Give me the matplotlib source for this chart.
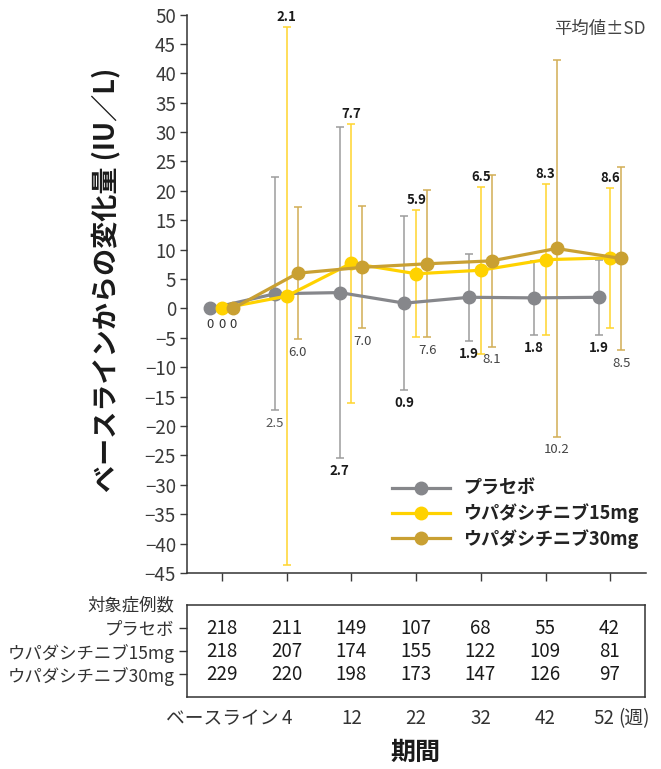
import matplotlib
matplotlib.use('Agg')
import matplotlib.pyplot as plt
import numpy as np

plt.rcParams['font.family'] = ['Noto Sans CJK JP', 'DejaVu Sans']

# 期間 (週)
weeks = ['ベースライン', '4', '12', '22', '32', '42', '52']
series = ['プラセボ', 'ウパダシチニブ15mg', 'ウパダシチニブ30mg']

# 平均値
mean_pbo = [0, 2.5, 2.7, 0.9, 1.9, 1.8, 1.9]
mean_15 = [0, 2.1, 7.7, 5.9, 6.5, 8.3, 8.6]
mean_30 = [0, 6.0, 7.0, 7.6, 8.1, 10.2, 8.5]
# SD
sd_pbo = [0, 19.8, 28.1, 14.8, 7.4, 6.3, 6.4]
sd_15 = [0, 45.7, 23.7, 10.8, 14.2, 12.9, 11.9]
sd_30 = [0, 11.2, 10.4, 12.5, 14.6, 32.0, 15.6]

# 対象症例数
n_pbo = [218, 211, 149, 107, 68, 55, 42]
n_15 = [218, 207, 174, 155, 122, 109, 81]
n_30 = [229, 220, 198, 173, 147, 126, 97]

colors = ['#86878b', '#ffd200', '#c9a032']
err_colors = ['#9c9c9c', '#ffd52e', '#d2ae55']
offsets = [-0.18, 0.0, 0.17]

fig = plt.figure(figsize=(6.61, 7.69), dpi=100)
ax = fig.add_axes([0.283, 0.2549, 0.694, 0.7262])

x = np.arange(len(weeks))
means = [mean_pbo, mean_15, mean_30]
sds = [sd_pbo, sd_15, sd_30]
for k in range(3):
    xx = x + offsets[k]
    m = np.array(means[k])
    s = np.array(sds[k])
    ax.errorbar(xx[1:], m[1:], yerr=s[1:], fmt='none', ecolor=err_colors[k],
                elinewidth=1.1, capsize=3.2, capthick=1.1, zorder=2)
    ax.plot(xx, m, '-o', color=colors[k], lw=2.3, ms=9, label=series[k], zorder=3 + k)

# 数値ラベル
for i in range(1, len(weeks)):
    w = 'normal' if i == 1 else 'bold'
    c = '#555555' if i == 1 else '#1a1a1a'
    ax.annotate(f'{mean_pbo[i]:.1f}', (x[i] + offsets[0], mean_pbo[i] - sd_pbo[i]),
                xytext=(0, -13), textcoords='offset pixels', ha='center', va='center',
                fontsize=9.5, fontweight=w, color=c)
    ax.annotate(f'{mean_15[i]:.1f}', (x[i] + offsets[1], mean_15[i] + sd_15[i]),
                xytext=(0, 10), textcoords='offset pixels', ha='center', va='center',
                fontsize=9.5, fontweight='bold', color='#1a1a1a')
    ax.annotate(f'{mean_30[i]:.1f}', (x[i] + offsets[2], mean_30[i] - sd_30[i]),
                xytext=(0, -13), textcoords='offset pixels', ha='center', va='center',
                fontsize=9.5, color='#444444')
for k in range(3):
    ax.annotate('0', (x[0] + offsets[k], 0), xytext=(0, -16), textcoords='offset pixels',
                ha='center', va='center', fontsize=9.5, color='#333333')

ax.set_xlim(-0.54, 6.55)
ax.set_ylim(-45, 50)
ax.set_yticks(np.arange(-45, 51, 5))
ax.set_xticks(x)
ax.set_xticklabels([])
ax.tick_params(axis='y', length=5, width=1, direction='out', labelsize=13.5,
               colors='#3a3a3a', pad=3)
ax.tick_params(axis='x', length=5.5, width=1, direction='out', colors='#3a3a3a')
for sp in ['top', 'right']:
    ax.spines[sp].set_visible(False)
for sp in ['left', 'bottom']:
    ax.spines[sp].set_color('#333333')
    ax.spines[sp].set_linewidth(1.1)

ax.set_ylabel('ベースラインからの変化量 (IU／L)', fontsize=19.5, fontweight='bold',
              color='#1a1a1a')
ax.yaxis.set_label_coords(-0.145, 0.525)
ax.text(1.0, 0.975, '平均値±SD', transform=ax.transAxes, ha='right', va='center',
        fontsize=12.5, color='#444444')

leg = ax.legend(loc='upper left', bbox_to_anchor=(0.447, 0.168), frameon=False,
                fontsize=13, handlelength=3.2, handletextpad=0.75, labelspacing=0.3,
                borderpad=0, borderaxespad=0)
for t in leg.get_texts():
    t.set_fontweight('bold')
    t.set_color('#222222')

# 対象症例数の表
axt = fig.add_axes([0.283, 0.0936, 0.693, 0.1196])
axt.set_xlim(-0.54, 6.55)
axt.set_ylim(0, 4)
rows = [n_pbo, n_15, n_30]
for r, vals in enumerate(rows):
    for i, v in enumerate(vals):
        axt.text(x[i], 3 - r, str(v), ha='center', va='center', fontsize=13.5, color='#1a1a1a')
axt.set_xticks([])
axt.set_yticks([3, 2, 1])
axt.set_yticklabels(series)
axt.tick_params(axis='y', length=6, width=1, pad=3, labelsize=12.5, colors='#333333')
for sp in axt.spines.values():
    sp.set_color('#333333')
    sp.set_linewidth(1.1)
axt.text(-0.027, 1.0, '対象症例数', transform=axt.transAxes, ha='right', va='center',
         fontsize=12.5, color='#333333')

# x軸ラベル
for i, lab in enumerate(weeks):
    dx = -6 if i == len(weeks) - 1 else 0
    ax.annotate(lab, (x[i], -45), xytext=(dx, -146), textcoords='offset pixels',
                ha='center', va='center', fontsize=13.5, color='#333333',
                annotation_clip=False)
ax.annotate('(週)', (x[-1], -45), xytext=(8, -146), textcoords='offset pixels',
            ha='left', va='center', fontsize=13.5, color='#333333', annotation_clip=False)
fig.text(0.628, 0.021, '期間', ha='center', va='center', fontsize=18, fontweight='bold',
         color='#1a1a1a')

fig.savefig('out.png', dpi=100)
